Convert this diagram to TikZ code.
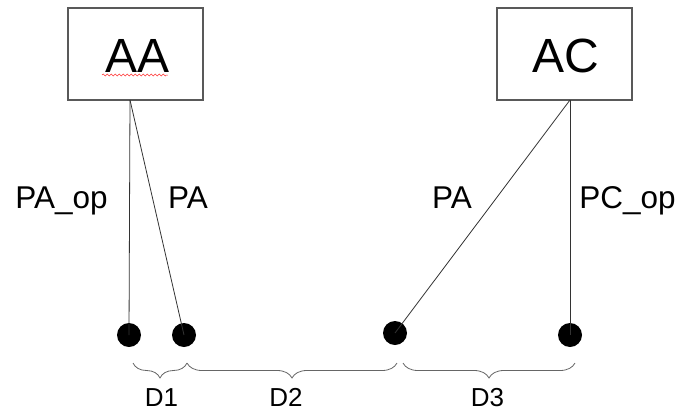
\documentclass[tikz,border=0pt]{standalone}
\usepackage{fontspec}
\setmainfont{Liberation Sans}
\usetikzlibrary{decorations.pathreplacing,decorations.pathmorphing}
\begin{document}
\begin{tikzpicture}[x=1pt,y=-1pt,
  box/.style={draw=black!65, line width=1.3pt, minimum width=135pt, minimum height=92pt, inner sep=0pt, font=\fontsize{47}{50}\selectfont},
  dot/.style={circle, fill, minimum size=24pt, inner sep=0pt},
  lbl/.style={anchor=base, font=\fontsize{31.5}{34}\selectfont},
  dlbl/.style={anchor=base, font=\fontsize{26}{30}\selectfont},
  wire/.style={draw=black!80, line width=0.8pt},
  gap/.style={draw=black!60, line width=0.8pt, decorate, decoration={brace, mirror, amplitude=15pt}}]
\useasboundingbox (0,0) rectangle (681,413);
\node[box] (aa) at (135.5,54) {};
\node[anchor=base, font=\fontsize{48}{50}\selectfont] (aatxt) at (137.5,72) {AA};
\draw[red!80, line width=0.5pt, decorate, decoration={snake, amplitude=1pt, segment length=4pt}] (aatxt.base west) ++(0,3) coordinate (sq0) -- ++(66,0) coordinate (sq1);
\node[box] (ac) at (564.5,54) {};
\node[anchor=base, font=\fontsize{48}{50}\selectfont] (actxt) at (566,72) {AC};
\coordinate (aafoot) at (130,100);
\coordinate (acfoot) at (570,100);
\node[dot] (dot0) at (129,335) {};
\node[dot] (dot1) at (184,335) {};
\node[dot] (dot2) at (395,333) {};
\node[dot] (dot3) at (570,335) {};
\draw[wire] (aafoot) -- (dot0.center);
\draw[wire] (aafoot) -- (dot1.center);
\draw[wire] (acfoot) -- (dot2.center);
\draw[wire] (acfoot) -- (dot3.center);
\node[lbl] (paop) at (61.5,208) {PA\_op};
\node[lbl] (pa0) at (188,208) {PA};
\node[lbl] (pa1) at (452,208) {PA};
\node[lbl] (pcop) at (627.5,208) {PC\_op};
\coordinate (b0) at (133,363);
\coordinate (b1) at (187,363);
\coordinate (b2) at (397,363);
\coordinate (b3) at (403,363);
\coordinate (b4) at (575,363);
\draw[gap] (b0) -- (b1);
\draw[gap] (b1) -- (b2);
\draw[gap] (b3) -- (b4);
\node[dlbl] (d1) at (161.5,406) {D1};
\node[dlbl] (d2) at (286,406) {D2};
\node[dlbl] (d3) at (487.5,406) {D3};
\end{tikzpicture}
\end{document}
